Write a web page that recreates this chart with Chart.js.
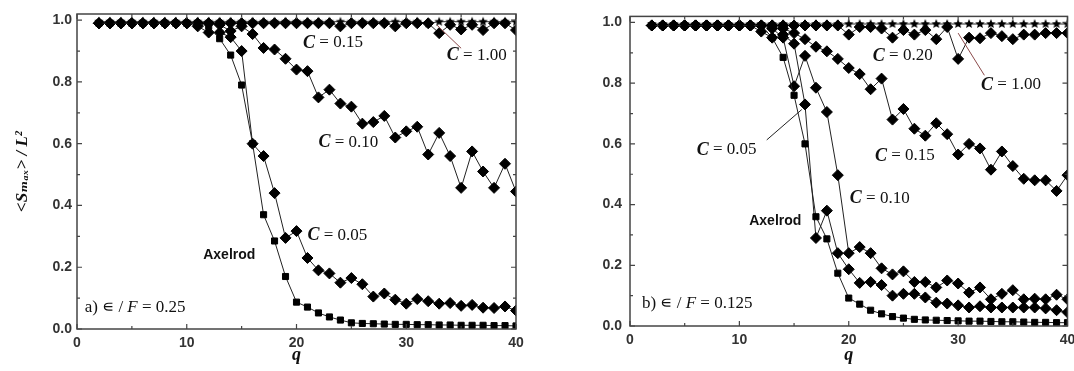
<!DOCTYPE html>
<html>
<head>
<meta charset="utf-8">
<script src="https://cdn.jsdelivr.net/npm/chart.js@4.4.0/dist/chart.umd.min.js"></script>
<style>
  body { margin: 0; background: #fff; }
  #wrap { position: relative; width: 1074px; height: 371px; }
  .panel { position: absolute; top: 0; width: 537px; height: 371px; }
  #left { left: 0; }
  #right { left: 537px; }
</style>
</head>
<body>
<div id="wrap">
  <div class="panel" id="left"><canvas id="chart-a"></canvas></div>
  <div class="panel" id="right"><canvas id="chart-b"></canvas></div>
</div>
<script>
// q values shared by every curve
const qValues = [2,3,4,5,6,7,8,9,10,11,12,13,14,15,16,17,18,19,20,21,22,23,24,25,26,27,28,29,30,31,32,33,34,35,36,37,38,39,40];
const xTicks = [0, 10, 20, 30, 40];
const yTicks = [0, 0.2, 0.4, 0.6, 0.8, 1.0];

// panel a) eps/F = 0.25
const axelrodA = [0.99,0.99,0.99,0.99,0.99,0.99,0.99,0.99,0.99,0.99,0.98, 0.94,0.887,0.79,0.60,0.37,0.285,0.17,0.087,0.071,0.052,0.039,0.029,0.02,0.018, 0.017,0.016,0.015,0.015,0.014,0.014,0.013,0.013,0.012,0.012,0.012,0.011,0.011,0.01];
const c05A = [0.99,0.99,0.99,0.99,0.99,0.99,0.99,0.99,0.99, 0.98,0.96,0.96,0.945,0.90,0.60,0.56,0.44,0.295,0.317,0.23,0.19,0.18,0.15,0.165,0.145,0.105,0.115,0.095,0.082,0.097,0.09,0.082,0.084,0.075,0.078,0.069,0.068,0.073,0.06];
const c10A = [0.99,0.99,0.99,0.99,0.99,0.99,0.99,0.99,0.99,0.99,0.99, 0.985,0.965,0.98,0.955,0.91,0.905,0.875,0.84,0.835,0.75,0.775,0.73,0.72,0.665,0.67,0.69,0.62,0.64,0.655,0.565,0.635,0.56,0.457,0.575,0.51,0.457,0.535,0.445];
const c15A = [0.99,0.99,0.99,0.99,0.99,0.99,0.99,0.99,0.99,0.99,0.99,0.99,0.99,0.99,0.99,0.99,0.99,0.99,0.99,0.99,0.99,0.99, 0.98,0.99,0.99,0.99,0.99,0.98,0.99,0.99,0.99,0.958,0.985,0.97,0.985,0.968,0.99,0.99,0.968];
const c100A = [0.995,0.995,0.995,0.995,0.995,0.995,0.995,0.995,0.995,0.995,0.995,0.995,0.995,0.995,0.995,0.995,0.995,0.995,0.995,0.995,0.995,0.995,0.995,0.995,0.995,0.995,0.995,0.995,0.995,0.995,0.99,0.995,0.995,0.995,0.995,0.995,0.995,0.995,0.995];

// panel b) eps/F = 0.125
const axelrodB = [0.99,0.99,0.99,0.99,0.99,0.99,0.99,0.99,0.99,0.99,0.99, 0.95,0.885,0.76,0.60,0.36,0.287,0.174,0.092,0.072,0.052,0.04,0.031,0.026,0.022,0.02,0.019,0.018,0.017,0.016,0.016,0.015,0.014,0.014,0.013,0.012,0.012,0.011,0.011];
const c05B = [0.99,0.99,0.99,0.99,0.99,0.99,0.99,0.99,0.99,0.99, 0.97,0.95,0.96,0.93,0.73,0.29,0.38,0.24,0.187,0.142,0.145,0.135,0.10,0.106,0.106,0.094,0.077,0.074,0.068,0.061,0.065,0.061,0.061,0.061,0.061,0.061,0.058,0.052,0.045];
const c10B = [0.99,0.99,0.99,0.99,0.99,0.99,0.99,0.99,0.99,0.99,0.99, 0.98,0.95,0.79,0.89,0.785,0.705,0.497,0.24,0.26,0.24,0.19,0.17,0.18,0.145,0.145,0.127,0.15,0.14,0.11,0.127,0.088,0.106,0.118,0.088,0.09,0.088,0.103,0.088];
const c15B = [0.99,0.99,0.99,0.99,0.99,0.99,0.99,0.99,0.99,0.99,0.99,0.99, 0.98,0.965,0.945,0.92,0.905,0.88,0.85,0.83,0.78,0.815,0.68,0.715,0.65,0.627,0.668,0.632,0.565,0.60,0.585,0.515,0.575,0.527,0.485,0.48,0.48,0.445,0.497];
const c20B = [0.99,0.99,0.99,0.99,0.99,0.99,0.99,0.99,0.99,0.99,0.99,0.99,0.99,0.99,0.99,0.99,0.99,0.99, 0.96,0.985,0.985,0.98,0.95,0.975,0.96,0.975,0.945,0.985,0.88,0.95,0.948,0.965,0.955,0.945,0.96,0.96,0.965,0.965,0.965];
const c100B = [0.995,0.995,0.995,0.995,0.995,0.995,0.995,0.995,0.995,0.995,0.995,0.995,0.995,0.995,0.995,0.995,0.995,0.995,0.995,0.995,0.995,0.995,0.995,0.995,0.995,0.995,0.995,0.995,0.995,0.995,0.995,0.995,0.995,0.995,0.995,0.995,0.995,0.995,0.995];

const SERIF = '"Liberation Serif", "DejaVu Serif", serif';
const SANS = '"Liberation Sans", Arial, sans-serif';
const cFont = 'italic bold 18px ' + SERIF;
const numFont = '17px ' + SERIF;

function cLabel(q, v, txt) {
    return { q: q, v: v, parts: [['C', cFont], [' = ' + txt, numFont]] };
}

const labelsA = [
    cLabel(20.6, 0.926, '0.15'),
    cLabel(33.7, 0.887, '1.00'),
    cLabel(22.0, 0.605, '0.10'),
    cLabel(21.0, 0.304, '0.05'),
    { q: 11.5, v: 0.24, parts: [['Axelrod', 'bold 14px ' + SANS]] },
    { q: 0.7, v: 0.068, parts: [['a) \u220A / ', numFont], ['F', 'italic 17px ' + SERIF], [' = 0.25', numFont]] }
];
const arrowsA = [
    { from: [35.0, 0.909], to: [32.8, 0.984], color: '#8b4a4a' }
];
const labelsB = [
    cLabel(22.2, 0.89, '0.20'),
    cLabel(32.1, 0.794, '1.00'),
    cLabel(22.4, 0.56, '0.15'),
    cLabel(20.1, 0.42, '0.10'),
    cLabel(6.1, 0.58, '0.05'),
    { q: 10.9, v: 0.345, parts: [['Axelrod', 'bold 14px ' + SANS]] },
    { q: 1.1, v: 0.074, parts: [['b) \u220A / ', numFont], ['F', 'italic 17px ' + SERIF], [' = 0.125', numFont]] }
];
const arrowsB = [
    { from: [32.4, 0.826], to: [30.0, 0.965], color: '#8b4a4a' },
    { from: [12.5, 0.613], to: [15.7, 0.713], color: '#222' }
];

// small filled five-point star used as a marker
function starImage(r) {
    const c = document.createElement('canvas');
    c.width = c.height = Math.ceil(r * 2 + 2);
    const g = c.getContext('2d');
    const cx = c.width / 2, cy = c.height / 2;
    g.beginPath();
    for (let i = 0; i < 10; i++) {
        const rad = i % 2 === 0 ? r : r * 0.45;
        const ang = -Math.PI / 2 + i * Math.PI / 5;
        g.lineTo(cx + rad * Math.cos(ang), cy + rad * Math.sin(ang));
    }
    g.closePath();
    g.fillStyle = '#000';
    g.fill();
    return c;
}
const starMark = starImage(5);

function points(vals) {
    return qValues.map((q, i) => ({ x: q, y: vals[i] }));
}

function series(vals, style) {
    const size = { rectRot: 5.5, rect: 4.3, star: 5 };
    return {
        data: points(vals),
        showLine: true,
        borderColor: '#222',
        borderWidth: 1,
        pointStyle: style === 'star' ? starMark : style,
        pointRadius: size[style],
        pointBackgroundColor: '#000',
        pointBorderColor: '#000',
        pointBorderWidth: 1
    };
}

// frame with inward ticks, text labels and pointer lines
const decorPlugin = {
    id: 'decor',
    afterDraw(chart, args, opts) {
        const { ctx, chartArea: a, scales: { x, y } } = chart;
        ctx.save();
        ctx.strokeStyle = '#444';
        ctx.lineWidth = 1.5;
        ctx.strokeRect(a.left, a.top, a.right - a.left, a.bottom - a.top);
        ctx.lineWidth = 1.2;
        ctx.beginPath();
        for (let q = 0; q <= 40; q += 5) {
            const px = x.getPixelForValue(q);
            const len = q % 10 === 0 ? 5 : 3;
            ctx.moveTo(px, a.bottom); ctx.lineTo(px, a.bottom - len);
            ctx.moveTo(px, a.top); ctx.lineTo(px, a.top + len);
        }
        for (let k = 0; k <= 10; k++) {
            const py = y.getPixelForValue(k / 10);
            const len = k % 2 === 0 ? 5 : 3;
            ctx.moveTo(a.left, py); ctx.lineTo(a.left + len, py);
            ctx.moveTo(a.right, py); ctx.lineTo(a.right - len, py);
        }
        ctx.stroke();

        opts.arrows.forEach(ar => {
            ctx.strokeStyle = ar.color;
            ctx.lineWidth = 1;
            ctx.beginPath();
            ctx.moveTo(x.getPixelForValue(ar.from[0]), y.getPixelForValue(ar.from[1]));
            ctx.lineTo(x.getPixelForValue(ar.to[0]), y.getPixelForValue(ar.to[1]));
            ctx.stroke();
        });

        ctx.fillStyle = '#111';
        ctx.textBaseline = 'middle';
        ctx.textAlign = 'left';
        opts.labels.forEach(lb => {
            let px = x.getPixelForValue(lb.q);
            const py = y.getPixelForValue(lb.v);
            lb.parts.forEach(([txt, font]) => {
                ctx.font = font;
                ctx.fillText(txt, px, py);
                px += ctx.measureText(txt).width;
            });
        });
        ctx.restore();
    }
};

function makeChart(id, datasets, cfg) {
    return new Chart(document.getElementById(id), {
        type: 'scatter',
        data: { datasets: datasets },
        plugins: [decorPlugin],
        options: {
            responsive: true,
            maintainAspectRatio: false,
            animation: false,
            layout: { padding: { top: cfg.top, right: cfg.right, left: 0, bottom: 0 } },
            plugins: {
                legend: { display: false },
                tooltip: { enabled: false },
                decor: { labels: cfg.labels, arrows: cfg.arrows }
            },
            scales: {
                x: {
                    type: 'linear',
                    min: 0,
                    max: 40,
                    afterBuildTicks: s => { s.ticks = xTicks.map(v => ({ value: v })); },
                    afterFit: s => { s.height = cfg.xHeight; s.paddingRight = 0; },
                    grid: { drawOnChartArea: false, drawTicks: false },
                    border: { display: false },
                    ticks: { color: '#333', padding: 6, maxRotation: 0, font: { family: SANS, size: 14, weight: 'bold' } },
                    title: { display: true, text: 'q', color: '#111', padding: { bottom: 5, top: 0 },
                             font: { family: SERIF, size: 18, style: 'italic', weight: 'bold' } }
                },
                y: {
                    min: 0,
                    max: 1.02,
                    afterBuildTicks: s => { s.ticks = yTicks.map(v => ({ value: v })); },
                    afterFit: s => { s.width = cfg.yWidth; },
                    grid: { drawOnChartArea: false, drawTicks: false },
                    border: { display: false },
                    ticks: { color: '#333', padding: cfg.yPad, callback: v => v.toFixed(1),
                             font: { family: SANS, size: 14, weight: 'bold' } },
                    title: { display: cfg.yTitle, text: '<S\u2098\u2090\u2093> / L\u00B2', color: '#111',
                             padding: { top: 12, bottom: 0 },
                             font: { family: SERIF, size: 17, style: 'italic', weight: 'bold' } }
                }
            }
        }
    });
}

makeChart('chart-a', [
    series(axelrodA, 'rect'),
    series(c05A, 'rectRot'),
    series(c10A, 'rectRot'),
    series(c15A, 'rectRot'),
    series(c100A, 'star')
], { top: 14, right: 21, xHeight: 42, yWidth: 77, yPad: 5, yTitle: true, labels: labelsA, arrows: arrowsA });

makeChart('chart-b', [
    series(axelrodB, 'rect'),
    series(c05B, 'rectRot'),
    series(c10B, 'rectRot'),
    series(c15B, 'rectRot'),
    series(c20B, 'rectRot'),
    series(c100B, 'star')
], { top: 10, right: 6, xHeight: 45, yWidth: 93, yPad: 8, yTitle: false, labels: labelsB, arrows: arrowsB });
</script>
</body>
</html>
